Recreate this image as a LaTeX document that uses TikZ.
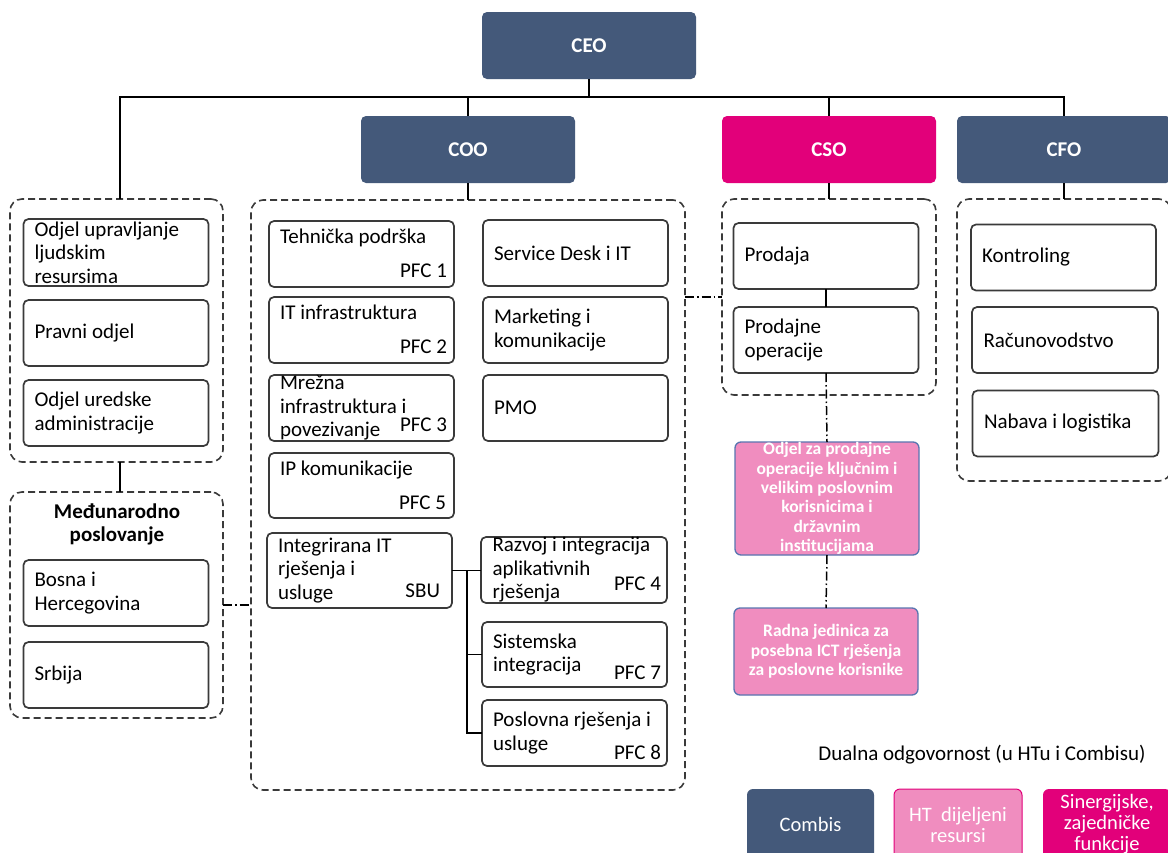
\documentclass[tikz,border=0pt]{standalone}
\usepackage{fontspec}
\setmainfont{Carlito}
\definecolor{slate}{HTML}{44597A}
\definecolor{hmag}{HTML}{E2007A}
\definecolor{hpink}{HTML}{F08DBF}
\definecolor{pinkedge}{HTML}{5875B0}
\definecolor{edge}{HTML}{3A3A3A}
\begin{document}
\begin{tikzpicture}[x=1pt,y=-1pt,
  base/.style={font=\fontsize{21}{23.5}\selectfont, inner sep=0pt, outer sep=0pt},
  head/.style={base, fill=slate, rounded corners=5pt, minimum width=214pt, minimum height=67pt, text=white, font=\fontsize{21}{23.5}\selectfont\bfseries},
  grp/.style={draw=edge, line width=1.6pt, dash pattern=on 7pt off 4pt, rounded corners=12pt, inner sep=0pt, outer sep=0pt},
  unit/.style={base, draw=edge, fill=white, line width=1.7pt, rounded corners=5pt, align=flush left, text width=163pt, inner xsep=11pt, inner ysep=0pt, minimum width=185pt, minimum height=66pt},
  upshift/.style={text depth=35pt},
  tag/.style={base, anchor=base east},
  pinkbox/.style={font=\fontsize{17.5}{19.3}\selectfont\bfseries, text=white, fill=hpink, draw=pinkedge, line width=1.3pt, rounded corners=6pt, align=flush center, minimum width=184pt, inner sep=0pt, outer sep=0pt},
  leg/.style={base, rounded corners=6pt, text=white, align=flush center, minimum width=128pt, minimum height=71pt, font=\fontsize{20.5}{21}\selectfont},
  link/.style={draw=black, line width=1.6pt},
  dd/.style={draw=black, line width=1.5pt, dash pattern=on 9pt off 3pt on 1.5pt off 3pt},
]
\fill[white] (0,0) rectangle (1168,852);
\useasboundingbox (0,0) rectangle (1168,852);

% groups
\node[grp, minimum width=213pt, minimum height=263pt] (g1) at (116.5,330.5) {};
\node[grp, minimum width=213pt, minimum height=226pt] (g2) at (116.5,605) {};
\node[grp, minimum width=434pt, minimum height=590pt] (g3) at (468,495) {};
\node[grp, minimum width=214pt, minimum height=196pt] (g4) at (829,297) {};
\node[grp, minimum width=214pt, minimum height=282pt] (g5) at (1064,340) {};

% heads
\node[head] (ceo) at (589,45.5) {CEO};
\node[head] (coo) at (468,149.5) {COO};
\node[head, fill=hmag] (cso) at (829,149.5) {CSO};
\node[head] (cfo) at (1064,149.5) {CFO};

% left column
\node[unit, minimum width=184pt, minimum height=67pt] (hr) at (116,252.5) {Odjel upravljanje\\ljudskim\\resursima};
\node[unit, minimum width=184pt] (pravni) at (116,333) {Pravni odjel};
\node[unit, minimum width=184pt] (ured) at (116,413) {Odjel uredske\\administracije};
\node[base, font=\fontsize{21}{23.5}\selectfont\bfseries, align=flush center] (mp) at (117,524.5) {Međunarodno\\poslovanje};
\node[unit, minimum width=184pt] (bih) at (116,593) {Bosna i\\Hercegovina};
\node[unit, minimum width=184pt] (srb) at (116,675) {Srbija};

% COO column
\node[unit, upshift] (teh) at (361.5,254) {Tehnička podrška};
\node[unit, upshift] (itinf) at (361.5,330) {IT infrastruktura};
\node[unit] (mrez) at (361.5,408) {Mrežna\\infrastruktura i\\povezivanje};
\node[unit, upshift, minimum height=65pt] (ipk) at (361.5,485.5) {IP komunikacije};
\node[unit, minimum height=75pt] (sbu) at (359.5,570.5) {Integrirana IT\\rješenja i\\usluge};
\node[unit] (sd) at (575.5,253) {Service Desk i IT};
\node[unit] (mkt) at (575.5,330) {Marketing i\\komunikacije};
\node[unit] (pmo) at (575.5,408) {PMO};
\node[unit, minimum width=186pt] (razvoj) at (574,570) {Razvoj i integracija\\aplikativnih\\rješenja};
\node[unit, minimum height=65pt] (sist) at (574.5,654.5) {Sistemska\\integracija};
\node[unit] (posl) at (574.5,733) {Poslovna rješenja i\\usluge};

\node[tag] (t1) at ([xshift=-7pt,yshift=10pt]teh.south east) {PFC 1};
\node[tag] (t2) at ([xshift=-7pt,yshift=10pt]itinf.south east) {PFC 2};
\node[tag] (t3) at ([xshift=-7pt,yshift=10pt]mrez.south east) {PFC 3};
\node[tag] (t5) at ([xshift=-8pt,yshift=9pt]ipk.south east) {PFC 5};
\node[tag] (tsbu) at ([xshift=-12pt,yshift=11pt]sbu.south east) {SBU};
\node[tag] (t4) at ([xshift=-6pt,yshift=13pt]razvoj.south east) {PFC 4};
\node[tag] (t7) at ([xshift=-6pt,yshift=8pt]sist.south east) {PFC 7};
\node[tag] (t8) at ([xshift=-6pt,yshift=7pt]posl.south east) {PFC 8};

% CSO column
\node[unit, minimum width=184pt] (prodaja) at (826,256) {Prodaja};
\node[unit, minimum width=184pt] (prodop) at (826,340) {Prodajne\\operacije};
\node[pinkbox, minimum height=113pt] (p1) at (827,498.5) {Odjel za prodajne\\operacije ključnim i\\velikim poslovnim\\korisnicima i\\državnim\\institucijama};
\node[pinkbox, minimum height=87pt] (p2) at (826,651.5) {Radna jedinica za\\posebna ICT rješenja\\za poslovne korisnike};

% CFO column
\node[unit] (kontr) at (1063.5,257.5) {Kontroling};
\node[unit, minimum width=186pt] (racun) at (1065,340) {Računovodstvo};
\node[unit, minimum width=186pt] (nabava) at (1065.5,423.5) {Nabava i logistika};

% legend
\node[base] (legt) at (982,755) {Dualna odgovornost (u HTu i Combisu)};
\node[leg, fill=slate, minimum width=127pt] (lc) at (810.5,824.5) {Combis};
\node[leg, fill=hpink, draw=hmag, line width=1pt] (lh) at (958,824.5) {HT\ \ dijeljeni\\resursi};
\node[leg, fill=hmag] (ls) at (1107,824.5) {Sinergijske,\\zajedničke\\funkcije};

% connectors
\coordinate (busL) at (120,97);
\coordinate (busR) at (1064,97);
\draw[link] (ceo.south) -- (ceo.south |- busL);
\draw[link] (busL |- g1.north) -- (busL) -- (busR) -- (cfo.north);
\draw[link] (coo.north |- busL) -- (coo.north);
\draw[link] (cso.north |- busL) -- (cso.north);
\draw[link] (coo.south) -- (g3.north);
\draw[link] (cso.south) -- (g4.north);
\draw[link] (cfo.south) -- (g5.north);
\draw[link] (busL |- g1.south) -- (busL |- g2.north);
\draw[link] (prodaja.south) -- (prodop.north);
\coordinate (br) at (467,570.5);
\draw[link] (sbu.east) -- (sbu.east -| razvoj.west);
\draw[link] (br) |- (sist.west);
\draw[link] (br) |- (posl.west);

\draw[dd] (g2.east) -- (g2.east -| g3.west);
\draw[dd] (g4.west -| g3.east) -- (g4.west);
\draw[dd] (prodop.south) -- (p1.north);
\draw[dd] (p1.south) -- (p2.north);
\end{tikzpicture}
\end{document}
